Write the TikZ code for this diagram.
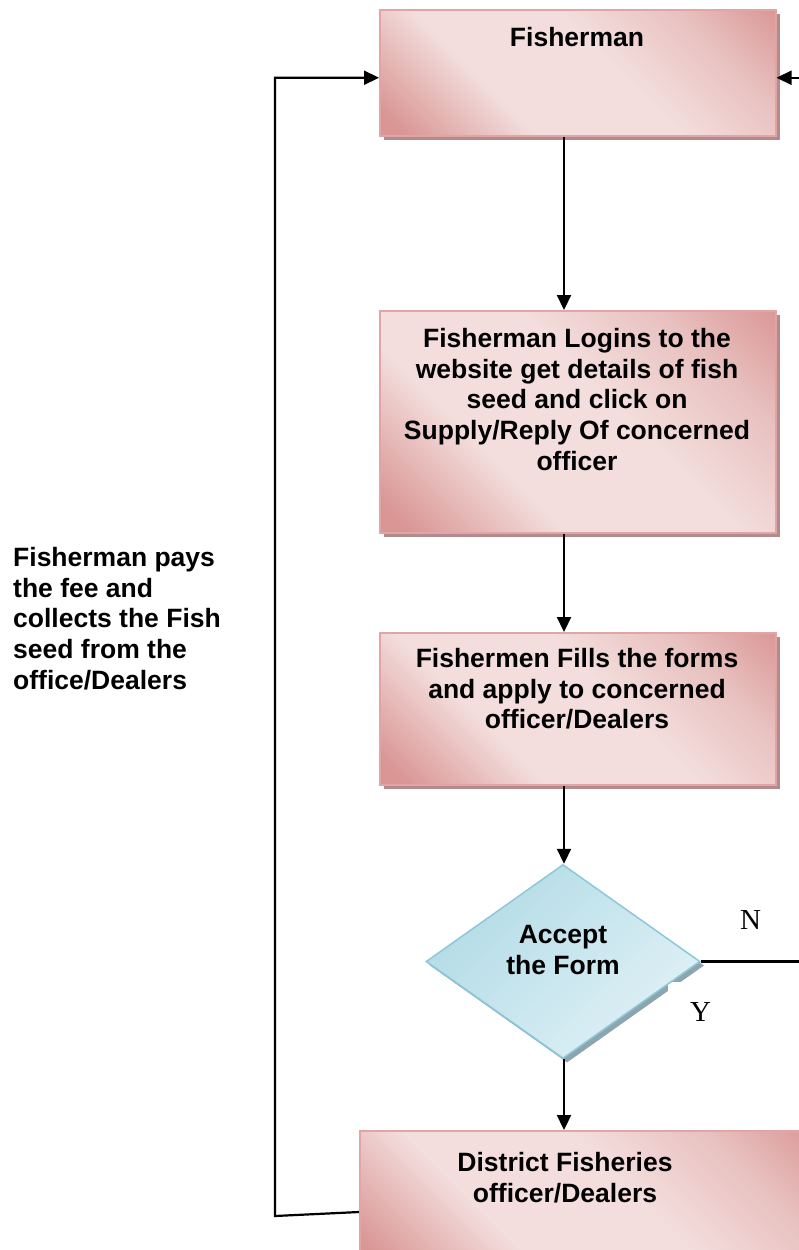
\documentclass[tikz,border=0pt]{standalone}
\usepackage{fontspec}
\setmainfont{Liberation Sans}
\newfontfamily\serifN{Liberation Serif}
\usetikzlibrary{arrows.meta,shapes.geometric,shadows,calc}
\definecolor{pd}{RGB}{217,150,148}
\definecolor{pl}{RGB}{243,222,221}
\definecolor{pm}{RGB}{232,193,192}
\definecolor{pborder}{RGB}{224,165,164}
\definecolor{pshadow}{RGB}{178,140,140}
\definecolor{bd}{RGB}{178,219,230}
\definecolor{bl}{RGB}{224,241,246}
\definecolor{bborder}{RGB}{140,200,218}
\definecolor{bshadow}{RGB}{140,165,175}
\pgfdeclarehorizontalshading{pinkband}{100bp}{color(0bp)=(pd); color(18bp)=(pd); color(36bp)=(pl); color(56bp)=(pl); color(72bp)=(pm); color(86bp)=(pd); color(100bp)=(pd)}
\begin{document}
\begin{tikzpicture}[x=1pt,y=-1pt,
  box/.style={draw=pborder, line width=1.5pt, shade, shading=pinkband, shading angle=45,
    drop shadow={shadow xshift=4pt, shadow yshift=-4pt, fill=pshadow, opacity=1},
    minimum width=396pt, anchor=north west, inner sep=0pt},
  txt/.style={font=\bfseries\fontsize{26.5}{30.7}\selectfont, align=center, inner sep=0pt, anchor=north},
  lbl/.style={font=\serifN\fontsize{29}{32}\selectfont},
  arr/.style={line width=2.2pt, -{Triangle[length=15pt,width=14pt]}},
  dia/.style={diamond, minimum width=274pt, minimum height=194pt, inner sep=0pt}
]
\useasboundingbox (0,0) rectangle (799,1250);
\clip (0,0) rectangle (799,1250);
\fill[white] (0,0) rectangle (799,1250);

\coordinate (col) at (564,0);
\coordinate (lb) at (275,1216);
\coordinate (rx) at (830,0);

\node[box, minimum height=126pt] (fish) at (379,9) {};
\node[txt] (fisht) at (577,27) {Fisherman};

\node[box, minimum height=222pt] (login) at (379,310) {};
\node[txt] (logint) at (577,328) {Fisherman Logins to the\\website get details of fish\\seed and click on\\Supply/Reply Of concerned\\officer};

\node[box, minimum height=152pt] (fill) at (379,632) {};
\node[txt] (fillt) at (577,648) {Fishermen Fills the forms\\and apply to concerned\\officer/Dealers};

\node[box, minimum width=460pt, minimum height=140pt] (dfo) at (359,1130) {};
\node[txt] (dfot) at (565,1152) {District Fisheries\\officer/Dealers};

\node[dia, fill=bshadow] (accsh) at (567,965.5) {};
\node[lbl, fill=white, anchor=north west, inner xsep=22pt, inner ysep=20pt] (ylab) at (668,982) {Y};
\node[dia, draw=bborder, line width=1.5pt, shade, top color=bd, bottom color=bl, shading angle=45] (acc) at (563,961.5) {};
\node[txt] (acct) at (563,925) {Accept\\the Form};

\node[lbl, anchor=north west, inner sep=0pt] (nlab) at (740,910) {N};

\node[txt, anchor=north west, align=left] (note) at (13,547) {Fisherman pays\\the fee and\\collects the Fish\\seed from the\\office/Dealers};

\draw[arr] (col |- fish.south) -- (col |- login.north);
\draw[arr] (col |- login.south) -- (col |- fill.north);
\draw[arr] (col |- fill.south) -- (col |- acc.north);
\draw[arr] (col |- acc.south) -- (col |- dfo.north);
\draw[arr] ([yshift=-82pt]dfo.north west) -- (lb) |- ([yshift=-5pt]fish.west);
\draw[arr] (acc.east) -- (rx |- acc.east) |- ([yshift=-5pt]fish.east);
\end{tikzpicture}
\end{document}
